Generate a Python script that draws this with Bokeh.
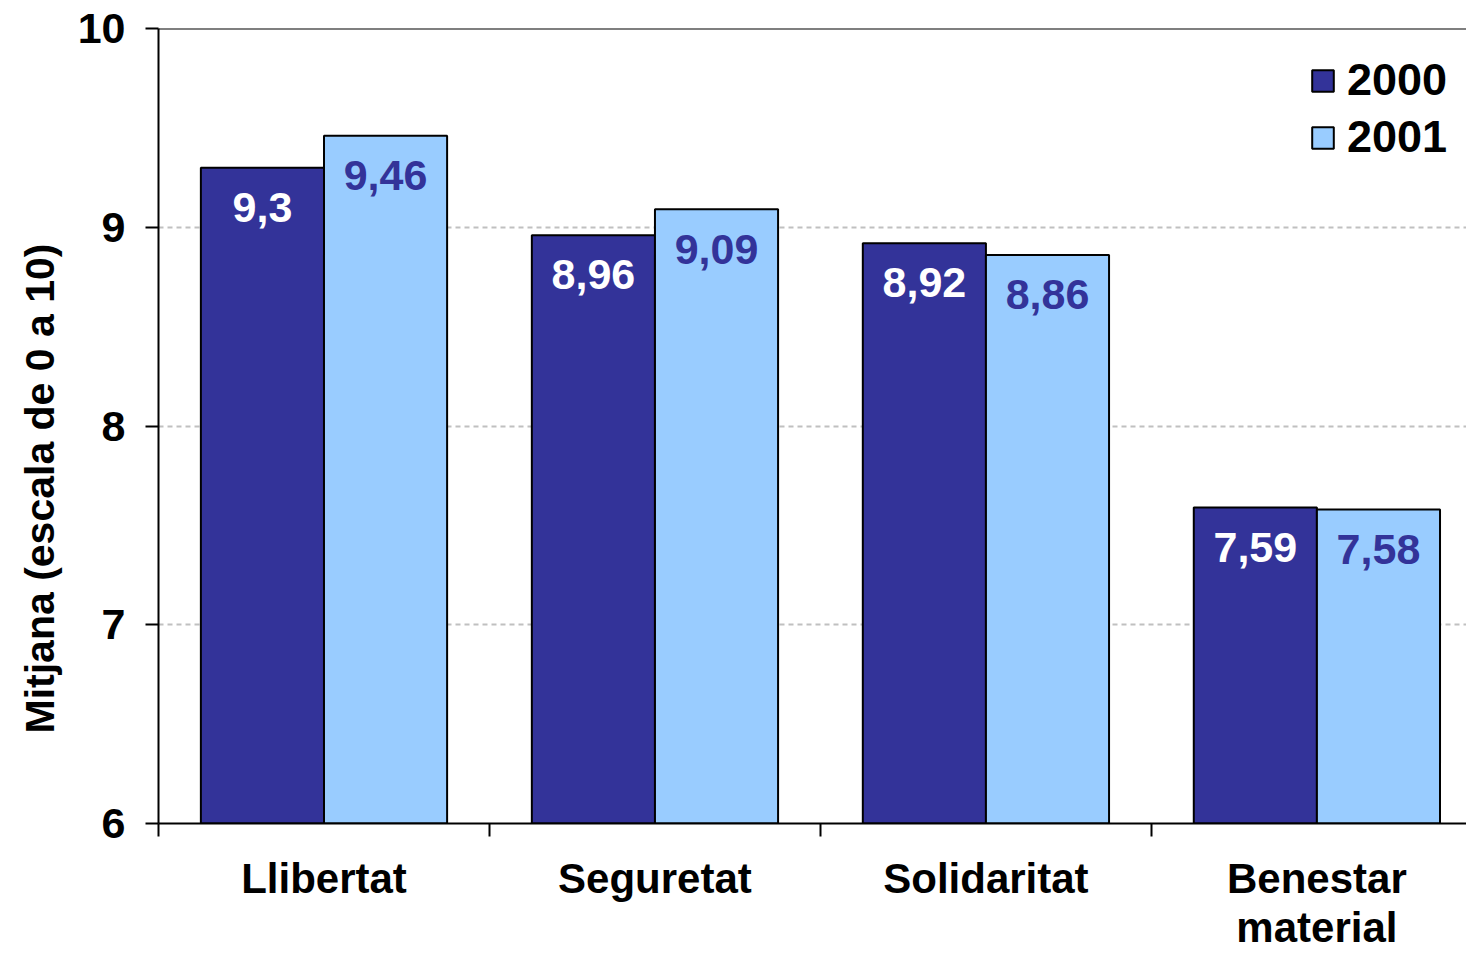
from bokeh.plotting import figure
from bokeh.models import Range1d, FixedTicker, ColumnDataSource, Span, Title
from bokeh.core.properties import value
from bokeh.embed import file_html
from bokeh.resources import INLINE

categories = ["Llibertat", "Seguretat", "Solidaritat", "Benestar\nmaterial"]
years = ["2000", "2001"]
values_2000 = [9.30, 8.96, 8.92, 7.59]
values_2001 = [9.46, 9.09, 8.86, 7.58]
y_ticks = [6, 7, 8, 9, 10]
y_title = "Mitjana (escala de 0 a 10)"

FONT = "Liberation Sans"
FS = "43px"
DARK = "#333399"
LIGHT = "#99CCFF"

n = len(categories)
centers = [i + 0.5 for i in range(n)]
bar_w = 0.372
off = bar_w / 2


def fmt(v):
    return f"{v:g}".replace(".", ",")


src0 = ColumnDataSource(dict(
    x=[c - off for c in centers], top=values_2000,
    lab=[fmt(v) for v in values_2000], ly=[v - 0.2 for v in values_2000]))
src1 = ColumnDataSource(dict(
    x=[c + off for c in centers], top=values_2001,
    lab=[fmt(v) for v in values_2001], ly=[v - 0.2 for v in values_2001]))

p = figure(width=1466, height=953, x_range=Range1d(0, 3.952), y_range=Range1d(6, 10),
           output_backend="svg", toolbar_location=None,
           min_border_left=158, min_border_right=0, min_border_top=28, min_border_bottom=130)
p.outline_line_color = None
p.background_fill_color = "white"

p.vbar(x="x", top="top", bottom=6, width=bar_w, source=src0, fill_color=DARK,
       line_color="black", line_width=2, legend_label=years[0])
p.vbar(x="x", top="top", bottom=6, width=bar_w, source=src1, fill_color=LIGHT,
       line_color="black", line_width=2, legend_label=years[1])

p.text(x="x", y="ly", text="lab", source=src0, text_color="white",
       text_font=value(FONT), text_font_style="bold", text_font_size=FS,
       text_align="center", text_baseline="middle")
p.text(x="x", y="ly", text="lab", source=src1, text_color=DARK,
       text_font=value(FONT), text_font_style="bold", text_font_size=FS,
       text_align="center", text_baseline="middle")

p.add_layout(Span(location=10, dimension="width", line_color="black", line_width=2))

# axes
p.xaxis.ticker = FixedTicker(ticks=centers, minor_ticks=[0, 1, 2, 3])
p.xaxis.major_label_overrides = {c: lab for c, lab in zip(centers, categories)}
p.xaxis.major_tick_out = 0
p.xaxis.major_tick_in = 0
p.xaxis.minor_tick_out = 13
p.xaxis.minor_tick_in = 0
p.xaxis.minor_tick_line_color = "black"
p.xaxis.minor_tick_line_width = 2
p.xaxis.axis_line_color = "black"
p.xaxis.axis_line_width = 2
p.xaxis.major_label_standoff = 18
p.xaxis.major_label_text_font = FONT
p.xaxis.major_label_text_font_style = "bold"
p.xaxis.major_label_text_font_size = "42px"
p.xaxis.major_label_text_line_height = 1.05
p.xaxis.major_label_text_color = "black"

p.yaxis.ticker = FixedTicker(ticks=y_ticks, minor_ticks=[])
p.yaxis.major_tick_out = 13
p.yaxis.major_tick_in = 0
p.yaxis.major_tick_line_color = "black"
p.yaxis.major_tick_line_width = 2
p.yaxis.axis_line_color = "black"
p.yaxis.axis_line_width = 2
p.yaxis.major_label_standoff = 20
p.yaxis.major_label_text_font = FONT
p.yaxis.major_label_text_font_style = "bold"
p.yaxis.major_label_text_font_size = FS
p.yaxis.major_label_text_color = "black"

p.xgrid.grid_line_color = None
p.ygrid.grid_line_color = "#c0c0c0"
p.ygrid.grid_line_width = 2
p.ygrid.grid_line_dash = "5 4"

p.add_layout(Title(text=y_title, align="left", offset=90, standoff=24,
                   text_font=FONT, text_font_style="bold", text_font_size="41px",
                   text_color="black"), "left")

lg = p.legend[0]
lg.location = (1151, 660)
lg.border_line_color = None
lg.background_fill_alpha = 0
lg.label_text_font = FONT
lg.label_text_font_style = "bold"
lg.label_text_font_size = "45px"
lg.label_text_color = "black"
lg.glyph_width = 27
lg.glyph_height = 27
lg.spacing = 5
lg.margin = 0
lg.padding = 0
lg.label_standoff = 11

open("out.html", "w").write(file_html(p, INLINE))
